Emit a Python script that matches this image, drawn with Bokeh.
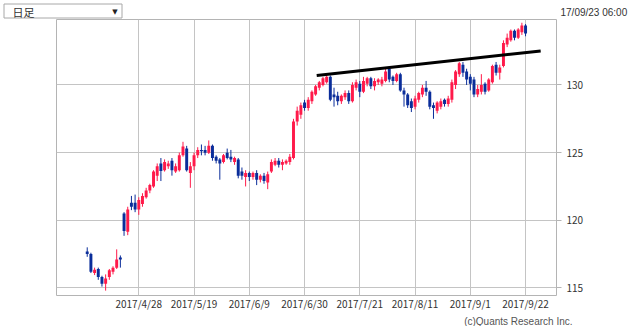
from bokeh.plotting import figure
from bokeh.models import FixedTicker, ColumnDataSource, Title
from bokeh.embed import file_html
from bokeh.resources import INLINE
from bokeh.core.properties import value

# EUR/JPY-like daily candles, 2017/4/10 .. 2017/9/22 (trading-day index 0..119)
opens = [117.7, 117.5, 116.1, 116.4, 115.8, 115.3, 115.8, 116.2, 116.5, 117.25,
         120.5, 119.15, 121.3, 121.3, 120.8, 121.2, 121.7, 122.2, 122.5, 123.3,
         124.2, 123.7, 124.0, 124.4, 123.6, 123.7, 124.8, 125.3, 123.5, 124.0,
         124.8, 125.2, 125.2, 125.0, 125.5, 124.7, 124.5, 124.3, 125.0, 124.7,
         124.3, 124.5, 123.6, 123.2, 123.5, 123.2, 123.5, 123.0, 123.3, 122.8,
         123.6, 124.1, 124.4, 124.1, 124.2, 124.3, 124.6, 127.3, 127.8, 128.7,
         128.3, 128.8, 129.3, 129.8, 130.0, 130.2, 130.6, 129.3, 129.2, 128.8,
         129.1, 129.4, 128.8, 129.8, 130.1, 129.5, 130.1, 130.5, 129.9, 130.2,
         130.1, 130.3, 131.2, 130.6, 130.3, 130.8, 129.6, 129.3, 128.8, 128.4,
         128.9, 129.3, 129.8, 129.5, 128.5, 128.1, 128.4, 128.9, 128.6, 128.9,
         130.0, 130.8, 131.5, 131.0, 130.6, 130.4, 129.3, 129.5, 130.1, 129.6,
         130.2, 131.5, 130.9, 131.4, 133.0, 133.3, 134.0, 133.5, 133.9, 134.4]
highs = [118.0, 117.6, 116.5, 116.5, 115.9, 116.0, 116.4, 116.6, 117.85, 117.4,
         120.6, 121.0, 121.8, 121.9, 121.7, 122.0, 122.4, 122.7, 123.7, 124.2,
         124.6, 124.5, 124.4, 124.6, 124.2, 125.0, 125.8, 125.5, 124.3, 125.0,
         125.4, 125.6, 125.5, 125.9, 125.6, 124.8, 124.6, 124.9, 125.3, 125.2,
         124.7, 124.6, 123.9, 123.7, 123.6, 123.6, 123.7, 123.4, 123.5, 123.6,
         124.5, 124.6, 124.6, 124.5, 124.5, 124.9, 127.5, 128.4, 128.7, 128.9,
         129.1, 129.6, 130.0, 130.3, 130.6, 130.75, 130.7, 129.8, 129.5, 129.3,
         129.6, 129.6, 130.2, 130.4, 130.3, 130.6, 130.6, 130.6, 130.5, 130.5,
         130.6, 131.2, 131.35, 130.7, 130.9, 130.9, 129.8, 129.4, 129.0, 129.2,
         129.5, 130.0, 130.3, 129.6, 128.7, 128.8, 129.0, 129.0, 129.2, 130.4,
         131.1, 131.7, 131.7, 131.2, 130.8, 130.6, 130.0, 130.8, 130.2, 130.5,
         131.5, 131.7, 131.5, 133.3, 133.8, 134.1, 134.1, 134.2, 134.6, 134.5]
lows = [117.3, 116.1, 115.95, 115.6, 115.1, 114.8, 115.6, 116.0, 116.4, 116.5,
        118.85, 118.9, 120.75, 120.6, 120.4, 121.0, 121.6, 122.0, 122.4, 122.9,
        122.9, 123.6, 123.8, 123.3, 123.5, 123.6, 124.7, 123.6, 122.4, 123.7,
        124.6, 124.8, 124.8, 124.9, 124.4, 124.2, 123.0, 124.2, 124.5, 124.3,
        124.1, 123.1, 123.0, 122.5, 122.9, 123.0, 122.6, 122.8, 122.7, 122.3,
        123.5, 124.0, 123.9, 123.7, 124.1, 124.1, 124.5, 127.0, 127.5, 128.1,
        128.1, 128.6, 129.2, 129.6, 129.9, 130.1, 128.8, 128.4, 128.5, 128.6,
        128.9, 128.6, 128.7, 129.6, 129.1, 129.4, 129.9, 129.7, 129.6, 130.0,
        129.9, 130.2, 130.2, 130.0, 130.2, 129.5, 128.4, 128.3, 128.0, 128.2,
        128.7, 129.1, 129.2, 128.2, 127.5, 127.9, 128.2, 128.4, 128.4, 128.7,
        129.7, 130.6, 130.6, 130.0, 129.6, 129.1, 129.1, 129.3, 129.3, 129.5,
        130.1, 130.7, 130.4, 131.3, 132.8, 133.2, 133.3, 133.4, 133.7, 133.6]
closes = [117.5, 116.2, 116.35, 115.8, 115.3, 115.7, 116.3, 116.5, 117.1, 117.1,
          119.2, 120.8, 121.0, 120.8, 121.5, 121.8, 122.2, 122.6, 123.6, 124.0,
          123.65, 124.3, 124.2, 123.7, 124.0, 124.8, 125.45, 123.7, 124.0, 124.8,
          125.2, 125.1, 125.0, 125.5, 124.6, 124.4, 124.2, 124.8, 124.6, 124.5,
          124.6, 123.3, 123.3, 123.5, 123.2, 123.5, 123.0, 123.3, 122.9, 123.4,
          124.3, 124.4, 124.1, 124.3, 124.4, 124.7, 127.3, 128.1, 128.5, 128.3,
          128.9, 129.5, 129.9, 130.2, 130.5, 130.6, 128.9, 129.1, 128.8, 129.2,
          129.4, 128.8, 130.0, 130.2, 129.5, 130.3, 130.5, 129.9, 130.3, 130.4,
          130.4, 131.0, 130.4, 130.3, 130.8, 129.6, 129.3, 128.5, 128.3, 129.0,
          129.4, 129.8, 129.5, 128.4, 128.3, 128.7, 128.8, 128.6, 129.0, 130.2,
          131.0, 131.6, 130.9, 130.4, 130.1, 129.3, 129.7, 130.0, 129.5, 130.4,
          131.4, 130.9, 131.3, 133.1, 133.5, 134.0, 133.5, 134.1, 134.4, 133.8]

tick_idx = [14, 29, 44, 59, 74, 89, 104, 119]
tick_labels = ["2017/4/28", "2017/5/19", "2017/6/9", "2017/6/30",
               "2017/7/21", "2017/8/11", "2017/9/1", "2017/9/22"]
y_ticks = [115, 120, 125, 130]

trend_idx = [62.3, 123.1]
trend_val = [130.7, 132.52]

period_label = "日足"
timestamp = "17/09/23 06:00"
credit = "(c)Quants Research Inc."

UP = "#ff1a4a"
DOWN = "#0a2d9a"
GRID = "#c4c4c4"
FRAME_L, FRAME_R = 56, 556   # main plot frame, in page pixels

# ---------- header strip (dropdown + timestamp), separate root, page-pixel units ----------
h = figure(width=640, height=19, x_range=(0, 640), y_range=(19, 0),
           output_backend="svg", toolbar_location=None, min_border=0)
h.axis.visible = False
h.grid.visible = False
h.outline_line_color = None
h.background_fill_color = "white"
h.border_fill_color = "white"
h.quad(left=[3.5], right=[121.5], top=[3.5], bottom=[17.5],
       fill_color="white", line_color="#a8a8a8", line_width=1)
h.text(x=[12], y=[11], text=[period_label], text_font=value("Noto Sans CJK JP"),
       text_font_size=value("11px"), text_color="#333333",
       text_baseline="middle", text_align="left")
h.text(x=[114.5], y=[11.5], text=["▼"], text_font=value("DejaVu Sans"),
       text_font_size=value("7px"), text_color="#222222",
       text_baseline="middle", text_align="center")
h.text(x=[560], y=[11.5], text=[timestamp], text_font=value("Liberation Sans"),
       text_font_size=value("10px"), text_color="#333333",
       text_baseline="middle", text_align="left")

# ---------- main candle chart ----------
n = len(opens)
src = ColumnDataSource(dict(
    x=list(range(n)),
    top=[max(o, c) for o, c in zip(opens, closes)],
    bottom=[min(o, c) for o, c in zip(opens, closes)],
    high=highs, low=lows,
    color=[UP if c >= o else DOWN for o, c in zip(opens, closes)],
))

p = figure(width=640, height=307, x_range=(-8.34, 127.4), y_range=(114.44, 134.84),
           output_backend="svg", toolbar_location=None, y_axis_location="right",
           min_border_left=FRAME_L, min_border_right=640 - FRAME_R,
           min_border_top=0, min_border_bottom=26)
p.background_fill_color = "white"
p.border_fill_color = "white"
p.outline_line_color = "#b4b4b4"

p.segment(x0="x", y0="low", x1="x", y1="high", line_color="color", line_width=1, source=src)
p.vbar(x="x", width=0.8, top="top", bottom="bottom", fill_color="color", line_color=None, source=src)
p.line(trend_idx, trend_val, line_color="black", line_width=3)

p.xaxis.ticker = FixedTicker(ticks=tick_idx)
p.xaxis.major_label_overrides = {i: t for i, t in zip(tick_idx, tick_labels)}
p.xaxis.major_tick_out = 0
p.xaxis.major_tick_in = 0
p.xaxis.minor_tick_out = 0
p.xaxis.minor_tick_in = 0
p.xaxis.axis_line_color = None
p.xaxis.major_label_standoff = 0
p.xaxis.major_label_text_font = "Noto Sans CJK JP"
p.xaxis.major_label_text_font_size = "10px"
p.xaxis.major_label_text_color = "#333333"

p.yaxis.ticker = FixedTicker(ticks=y_ticks)
p.yaxis.major_tick_out = 5
p.yaxis.major_tick_in = 0
p.yaxis.minor_tick_out = 0
p.yaxis.minor_tick_in = 0
p.yaxis.major_tick_line_color = "#b4b4b4"
p.yaxis.axis_line_color = None
p.yaxis.major_label_standoff = 5
p.yaxis.major_label_text_font = "Noto Sans CJK JP"
p.yaxis.major_label_text_font_size = "10px"
p.yaxis.major_label_text_color = "#333333"

p.xgrid.grid_line_color = GRID
p.ygrid.grid_line_color = GRID

p.add_layout(Title(text=credit, align="right", offset=-16, standoff=0,
                   text_font="Liberation Sans", text_font_size="10px",
                   text_font_style="normal", text_color="#555555"), "below")

open("out.html", "w").write(file_html([h, p], INLINE))
